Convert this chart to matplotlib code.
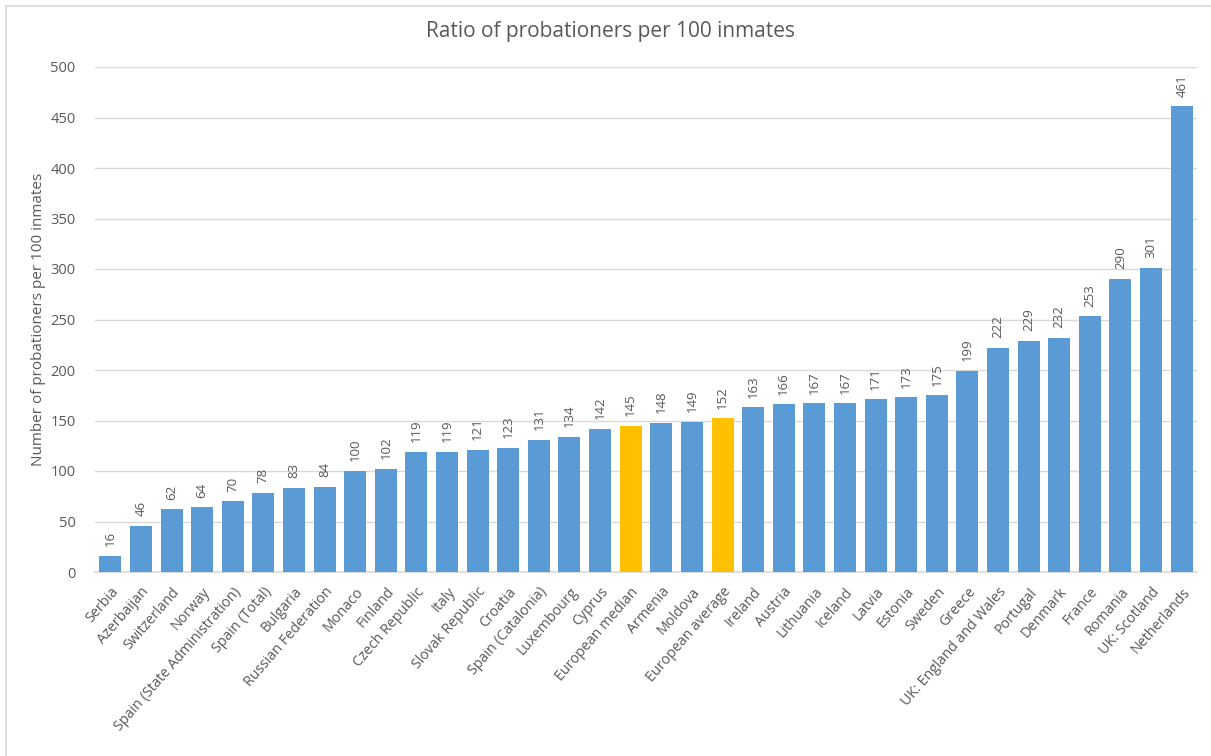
import matplotlib.pyplot as plt
from matplotlib.patches import Rectangle

# data
countries = ["Serbia", "Azerbaijan", "Switzerland", "Norway", "Spain (State Administration)",
             "Spain (Total)", "Bulgaria", "Russian Federation", "Monaco", "Finland",
             "Czech Republic", "Italy", "Slovak Republic", "Croatia", "Spain (Catalonia)",
             "Luxembourg", "Cyprus", "European median", "Armenia", "Moldova",
             "European average", "Ireland", "Austria", "Lithuania", "Iceland", "Latvia",
             "Estonia", "Sweden", "Greece", "UK: England and Wales", "Portugal", "Denmark",
             "France", "Romania", "UK: Scotland", "Netherlands"]
values = [16, 46, 62, 64, 70, 78, 83, 84, 100, 102, 119, 119, 121, 123, 131, 134, 142, 145,
          148, 149, 152, 163, 166, 167, 167, 171, 173, 175, 199, 222, 229, 232, 253, 290,
          301, 461]
labels = [str(v) for v in values]
highlight = ["European median", "European average"]

BLUE = "#5B9BD5"
GOLD = "#FFC000"
TXT = "#595959"

plt.rcParams['font.family'] = ['Open Sans', 'DejaVu Sans']

fig = plt.figure(figsize=(12.11, 7.56), dpi=100)
ax = fig.add_axes([95 / 1211, 1 - 572 / 756, (1197 - 95) / 1211, (572 - 67) / 756])

# outer chart frame (runs off the right and bottom edges)
fig.patches.append(Rectangle((6 / 1211, -0.05), 1.1, 1 - 6 / 756 + 0.05,
                             transform=fig.transFigure, fill=False,
                             edgecolor="#D9D9D9", linewidth=1.2))

colors = [GOLD if c in highlight else BLUE for c in countries]
x = range(len(countries))
bars = ax.bar(x, values, width=0.72, color=colors, zorder=3)

for b, lab in zip(bars, labels):
    ax.annotate(lab, (b.get_x() + b.get_width() / 2, b.get_height()),
                xytext=(0, 7), textcoords="offset points", rotation=90,
                ha="center", va="bottom", fontsize=9.5, color=TXT)

ax.set_xlim(-0.5, len(countries) - 0.5)
ax.set_ylim(0, 500)
ax.set_yticks(range(0, 501, 50))
ax.grid(axis="y", color="#D9D9D9", linewidth=1, zorder=0)
for s in ["top", "right", "left"]:
    ax.spines[s].set_visible(False)
ax.spines["bottom"].set_color("#D9D9D9")
ax.spines["bottom"].set_linewidth(1.2)
ax.tick_params(axis="both", length=0, colors=TXT)
ax.tick_params(axis="y", pad=14, labelsize=10.5)
ax.tick_params(axis="x", pad=9, labelsize=10.3)
ax.set_xticks(list(x))
ax.set_xticklabels(countries, rotation=49, ha="right", rotation_mode="anchor")

ax.set_ylabel("Number of probationers per 100 inmates", fontsize=11, color=TXT, labelpad=3)
fig.text(610 / 1211, 1 - 32 / 756, "Ratio of probationers per 100 inmates",
         fontsize=15, color=TXT, ha="center", va="center")

fig.savefig("out.png", dpi=100)
